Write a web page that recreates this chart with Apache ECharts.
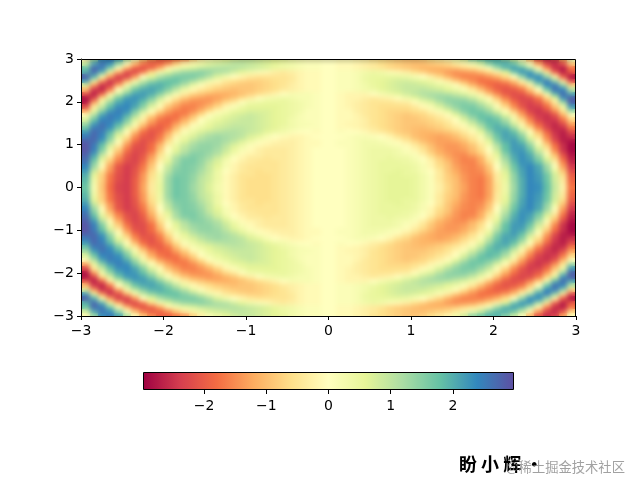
<!DOCTYPE html>
<html><head><meta charset="utf-8">
<style>html,body{margin:0;padding:0;background:#fff}#c{width:640px;height:490px;position:absolute;left:0;top:0}
#soft{position:absolute;left:82px;top:60px;width:493px;height:256px;-webkit-backdrop-filter:blur(2.5px);backdrop-filter:blur(2.5px);pointer-events:none}</style>
<script src="https://cdn.jsdelivr.net/npm/echarts@6/dist/echarts.min.js"></script>
</head><body><div id="c"></div><div id="soft"></div>
<script>
const xCenters=[0.05,0.15,0.25,0.35,0.45,0.55,0.65,0.75,0.85,0.95,1.05,1.15,1.25,1.35,1.45,1.55,1.65,1.75,1.85,1.95,2.05,2.15,2.25,2.35,2.45,2.55,2.65,2.75,2.85,2.95];
const yCenters=[0,0.1,0.2,0.3,0.4,0.5,0.6,0.7,0.8,0.9,1,1.1,1.2,1.3,1.4,1.5,1.6,1.7,1.8,1.9,2,2.1,2.2,2.3,2.4,2.5,2.6,2.7,2.8,2.9,3];
const zRows=[
[0,0,.1,.2,.3,.4,.5,.6,.6,.6,.5,.3,.1,-.3,-.7,-1,-1.3,-1.6,-1.7,-1.3,-.5,.4,1.3,2,2.4,2.3,1.8,.9,-.2,-1.7],
[0,0,.1,.2,.3,.4,.5,.6,.6,.6,.5,.3,.1,-.3,-.7,-1,-1.3,-1.6,-1.7,-1.3,-.5,.4,1.3,2,2.4,2.3,1.8,.9,-.3,-1.8],
[0,0,.1,.2,.3,.4,.5,.6,.6,.6,.5,.3,.1,-.4,-.8,-1,-1.4,-1.6,-1.7,-1.3,-.4,.5,1.4,2,2.4,2.2,1.7,.8,-.4,-1.9],
[0,0,.1,.2,.3,.4,.5,.6,.6,.5,.5,.3,.1,-.4,-.8,-1.1,-1.4,-1.6,-1.6,-1.2,-.4,.6,1.4,2.1,2.4,2.2,1.7,.8,-.6,-2],
[0,0,.1,.2,.3,.4,.5,.5,.6,.5,.4,.2,0,-.4,-.9,-1.2,-1.5,-1.6,-1.5,-1,-.2,.7,1.6,2.1,2.4,2.1,1.4,.5,-.9,-2.2],
[0,0,.1,.2,.3,.4,.5,.5,.5,.5,.4,.2,-.2,-.6,-.9,-1.3,-1.5,-1.6,-1.4,-.9,0,.9,1.7,2.2,2.4,2.1,1.3,.1,-1.3,-2.4],
[0,0,.1,.2,.3,.4,.5,.5,.5,.4,.3,.1,-.2,-.7,-1,-1.4,-1.6,-1.6,-1.2,-.6,.2,1.1,1.9,2.3,2.2,1.7,.9,-.3,-1.6,-2.6],
[0,0,.1,.2,.3,.4,.4,.5,.4,.4,.2,0,-.4,-.8,-1.2,-1.4,-1.6,-1.5,-1.2,-.4,.4,1.3,2,2.3,2.1,1.5,.6,-.7,-1.9,-2.7],
[0,0,.1,.2,.3,.4,.4,.4,.3,.2,.1,-.3,-.7,-1.1,-1.3,-1.5,-1.5,-1.2,-.8,-.2,.6,1.5,2.1,2.3,2,1.2,.1,-1.1,-2.2,-2.8],
[0,0,.1,.2,.3,.4,.4,.4,.3,.1,-.2,-.5,-.9,-1.2,-1.4,-1.4,-1.3,-1,-.6,0,.9,1.8,2.2,2.2,1.7,.8,-.4,-1.6,-2.5,-2.9],
[0,.1,.1,.2,.3,.3,.3,.2,.1,-.1,-.4,-.7,-1,-1.3,-1.4,-1.4,-1.2,-.9,-.4,.3,1.1,1.8,2.2,2.1,1.4,.3,-.8,-1.8,-2.5,-2.9],
[0,.1,.1,.2,.3,.3,.2,.1,-.1,-.4,-.7,-1,-1.2,-1.3,-1.3,-1.2,-1,-.6,-.2,.6,1.5,2,2.2,1.8,1,-.1,-1.3,-2.2,-2.7,-2.8],
[0,0,.1,.2,.2,.1,0,-.2,-.5,-.7,-1,-1.1,-1.2,-1.3,-1.2,-1,-.7,-.4,.2,1,1.7,2.1,2,1.5,.5,-.6,-1.6,-2.4,-2.7,-2.5],
[0,.1,0,0,-.1,-.3,-.4,-.6,-.8,-.9,-1,-1.1,-1.1,-1,-.9,-.7,-.4,-.1,.6,1.3,1.9,2.1,1.8,1,0,-1,-1.9,-2.5,-2.7,-2.2],
[0,-.1,-.1,-.2,-.3,-.4,-.6,-.7,-.8,-.9,-1,-1,-.9,-.8,-.6,-.4,-.2,.3,1,1.7,2,1.9,1.3,.4,-.6,-1.6,-2.3,-2.6,-2.5,-1.7],
[0,-.1,-.2,-.2,-.3,-.5,-.6,-.7,-.8,-.9,-.9,-.9,-.8,-.7,-.5,-.2,.1,.8,1.3,1.8,1.9,1.5,.8,-.2,-1.2,-1.9,-2.4,-2.6,-2.2,-1.3],
[0,-.1,-.1,-.2,-.3,-.5,-.6,-.7,-.8,-.9,-.9,-.8,-.7,-.5,-.3,0,.7,1.2,1.7,1.9,1.7,1.2,.3,-.7,-1.6,-2.3,-2.5,-2.4,-1.7,-.7],
[0,-.1,-.1,-.2,-.4,-.5,-.6,-.7,-.8,-.9,-.8,-.7,-.5,-.3,0,.6,1.1,1.6,1.8,1.6,1.3,.6,-.3,-1.3,-2,-2.4,-2.5,-2.1,-1.1,0],
[0,-.1,-.1,-.3,-.4,-.5,-.6,-.7,-.7,-.7,-.6,-.5,-.2,.1,.6,1.1,1.5,1.7,1.6,1.3,.7,0,-.9,-1.6,-2.3,-2.5,-2.2,-1.5,-.5,1.2],
[0,-.1,-.2,-.3,-.4,-.5,-.6,-.6,-.6,-.6,-.4,-.1,.2,.7,1.1,1.4,1.6,1.6,1.3,.9,.1,-.7,-1.5,-2.1,-2.4,-2.3,-1.8,-.9,.4,2.2],
[0,-.1,-.2,-.3,-.4,-.5,-.5,-.5,-.4,-.3,0,.4,.7,1.1,1.4,1.5,1.5,1.3,.9,.3,-.4,-1.2,-1.8,-2.2,-2.3,-2,-1.3,-.3,1.4,2.8],
[0,-.1,-.2,-.2,-.3,-.4,-.3,-.2,0,.3,.6,.9,1.1,1.3,1.4,1.3,1.2,.9,.4,-.1,-.9,-1.6,-2.1,-2.3,-2.2,-1.7,-.7,.6,2.3,2.8],
[0,-.1,-.2,-.2,-.2,0,.2,.4,.6,.8,1,1.1,1.2,1.2,1.1,.9,.7,.3,-.2,-.9,-1.5,-2,-2.2,-2.1,-1.6,-.8,.2,1.9,2.7,2.1],
[0,.1,.1,.2,.3,.4,.6,.7,.8,.9,.9,1,.9,.8,.6,.4,.1,-.4,-1,-1.5,-1.9,-2.1,-2,-1.7,-.9,0,1.7,2.6,2.4,1],
[0,.1,.1,.2,.3,.5,.6,.7,.8,.9,.9,.8,.7,.5,.3,0,-.5,-1.1,-1.5,-1.8,-2,-1.9,-1.5,-.9,-.2,1.3,2.4,2.5,1.3,-.7],
[0,.1,.1,.2,.4,.5,.6,.7,.8,.8,.7,.6,.4,.1,-.3,-.8,-1.2,-1.5,-1.8,-1.8,-1.7,-1.4,-.9,-.2,1.1,2.2,2.5,1.4,-.4,-2.2],
[0,.1,.1,.2,.4,.5,.5,.5,.5,.4,.2,0,-.3,-.7,-1.1,-1.4,-1.6,-1.6,-1.6,-1.4,-1.1,-.6,0,1.4,2.3,2.3,1.3,-.3,-2,-2.8],
[0,.1,.1,.2,.3,.4,.3,.1,-.1,-.3,-.6,-.8,-1.1,-1.2,-1.4,-1.5,-1.4,-1.3,-1,-.6,-.2,.6,1.7,2.3,2.2,1.1,-.4,-2,-2.7,-1.9],
[0,-.1,-.1,-.2,-.3,-.4,-.5,-.7,-.8,-.9,-1,-1.1,-1.1,-1.1,-1,-.9,-.7,-.5,-.2,.1,1.2,1.9,2.2,1.9,1.1,-.1,-1.6,-2.5,-2.7,-1.8],
[0,-.1,-.1,-.2,-.3,-.4,-.6,-.7,-.8,-.9,-1,-1,-.9,-.8,-.7,-.4,-.2,.2,.8,1.5,1.9,2,1.7,1,0,-1.3,-2.3,-2.6,-2.1,-.8],
[0,-.1,-.1,-.2,-.3,-.5,-.6,-.7,-.8,-.9,-.9,-.8,-.6,-.4,-.2,.3,.8,1.4,1.7,1.9,1.9,1.5,.9,.1,-1.1,-2.1,-2.5,-2.3,-1.3,.1]
];
const barTicks=[-2,-1,0,1,2];
const colorLimit=2.98;
const spectral=['#9e0142','#d53e4f','#f46d43','#fdae61','#fee08b','#ffffbf','#e6f598','#abdda4','#66c2a5','#3288bd','#5e4fa2'];

// the picture is mirrored left/right with opposite sign, and top/bottom with the same sign
const cells=[];
yCenters.forEach((y,r)=>xCenters.forEach((x,c)=>{
  const z=zRows[r][c];
  cells.push([x,y,z],[-x,y,-z]);
  if(y!==0) cells.push([x,-y,z],[-x,-y,-z]);
}));
const minus=v=>String(v).replace('-','\u2212');
const font={fontFamily:'DejaVu Sans',fontSize:14,color:'#000'};
const chart=echarts.init(document.getElementById('c'),null,{renderer:'canvas'});
chart.setOption({
  animation:false,
  backgroundColor:'#fff',
  grid:[
    {left:81,top:59,width:495,height:257},
    {left:143,top:372,width:371,height:18}
  ],
  xAxis:[
    {type:'value',gridIndex:0,min:-3,max:3,interval:1,splitLine:{show:false},
     axisLine:{onZero:false,lineStyle:{color:'#000'}},axisTick:{length:4,lineStyle:{color:'#000'}},
     axisLabel:{...font,margin:8,formatter:minus,showMinLabel:true,showMaxLabel:true}},
    {type:'value',gridIndex:1,min:-colorLimit,max:colorLimit,splitLine:{show:false},
     axisLine:{show:false},
     axisTick:{length:4,lineStyle:{color:'#000'},customValues:barTicks},
     axisLabel:{...font,margin:9,formatter:minus,customValues:barTicks}}
  ],
  yAxis:[
    {type:'value',gridIndex:0,min:-3,max:3,interval:1,splitLine:{show:false},
     axisLine:{onZero:false,lineStyle:{color:'#000'}},axisTick:{length:4,lineStyle:{color:'#000'}},
     axisLabel:{...font,margin:7,formatter:minus,showMinLabel:true,showMaxLabel:true}},
    {type:'value',gridIndex:1,min:0,max:1,show:false}
  ],
  visualMap:{
    type:'continuous',seriesIndex:0,dimension:2,min:-colorLimit,max:colorLimit,
    orient:'horizontal',left:143,top:372,itemWidth:18,itemHeight:371,padding:0,
    calculable:false,realtime:false,text:null,showLabel:false,
    inRange:{color:spectral}
  },
  series:[{
    type:'custom',xAxisIndex:0,yAxisIndex:0,data:cells,encode:{x:0,y:1},clip:true,
    renderItem(params,api){
      const x=api.value(0),y=api.value(1);
      const halfX=(xCenters[1]-xCenters[0])/2, halfY=(yCenters[1]-yCenters[0])/2;
      const a=api.coord([Math.max(x-halfX,-3),Math.min(y+halfY,3)]);
      const b=api.coord([Math.min(x+halfX,3),Math.max(y-halfY,-3)]);
      const l=Math.floor(a[0]),t=Math.floor(a[1]),r=Math.ceil(b[0]),bt=Math.ceil(b[1]);
      return {type:'rect',shape:{x:l,y:t,width:r-l,height:bt-t},style:{fill:api.visual('color')}};
    }
  }],
  graphic:[
    {type:'rect',z:100,shape:{x:81.5,y:59.5,width:494,height:257},style:{fill:'none',stroke:'#000',lineWidth:1}},
    {type:'rect',z:100,shape:{x:143.5,y:372.5,width:370,height:17},style:{fill:'none',stroke:'#000',lineWidth:1}},
    {type:'text',z:101,left:459,top:455,style:{text:'盼 小 辉 ·',font:'bold 18px "Noto Sans CJK SC"',fill:'#000'}},
    {type:'text',z:102,left:506,top:460,style:{text:'@稀土掘金技术社区',font:'13.3px "Noto Sans CJK SC"',fill:'rgba(130,130,130,0.75)'}}
  ]
});
</script></body></html>
